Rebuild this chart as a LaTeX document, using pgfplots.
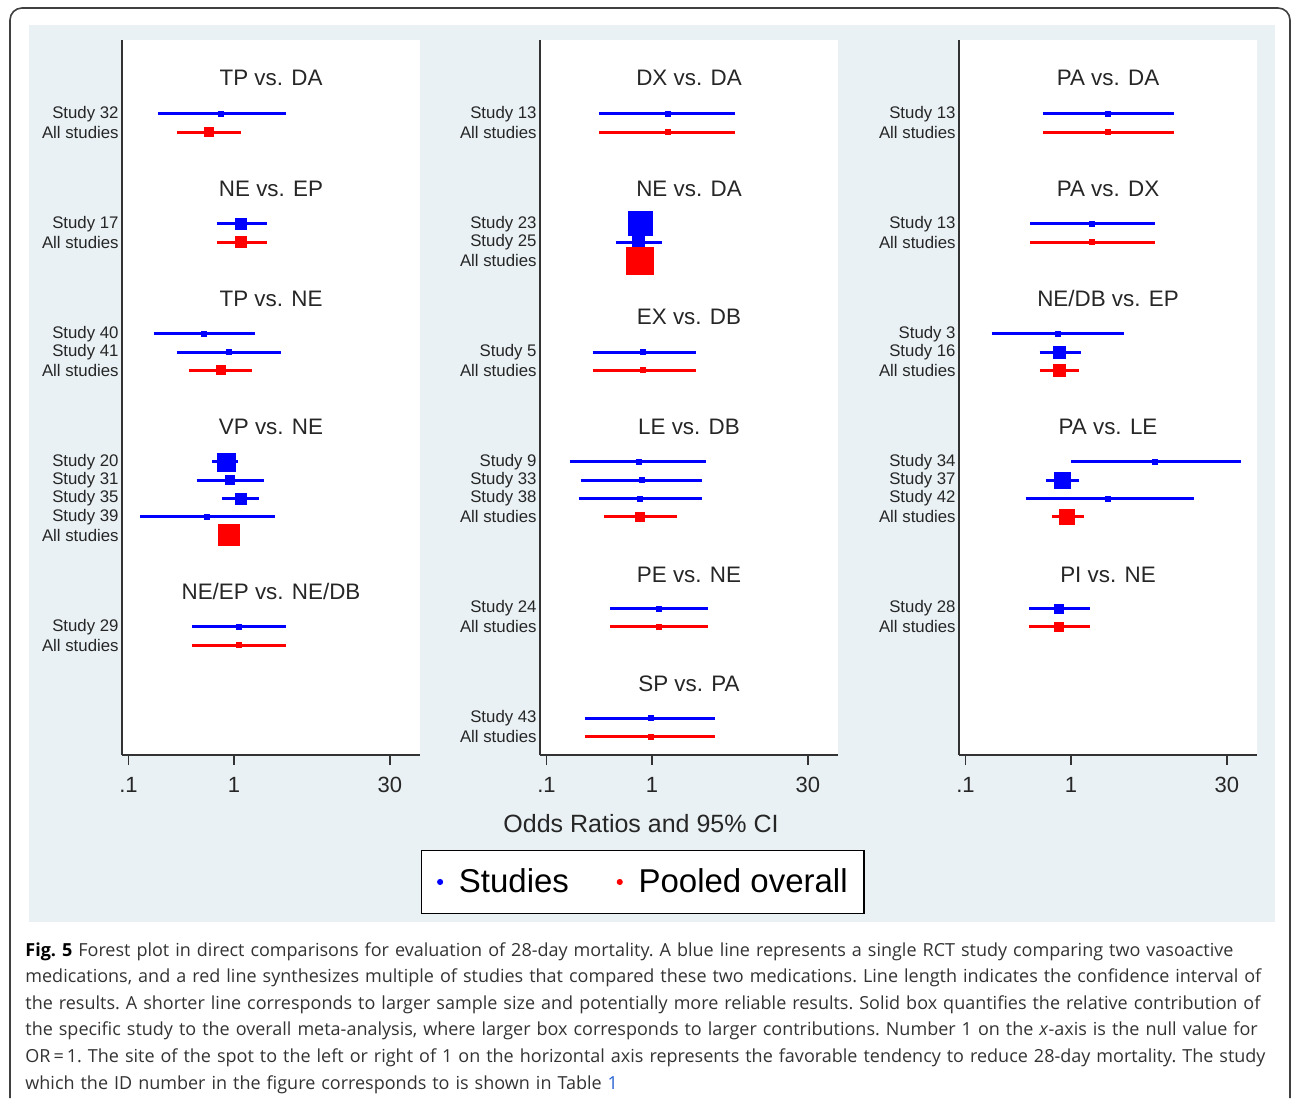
\documentclass[border=0pt]{standalone}
\usepackage{pgfplots}
\pgfplotsset{compat=1.18}
\usepackage{fontspec}
\setmainfont{Liberation Sans}
\newfontfamily\capfont{Open Sans}
\definecolor{bgc}{RGB}{233,241,244}
\definecolor{linkc}{RGB}{40,100,210}

% color, low, high, OR, row, box half-size
\newcommand{\ci}[6]{%
  \addplot[#1, line width=1.5pt, forget plot] coordinates {(#2,-#5) (#3,-#5)};
  \addplot[#1, only marks, mark=square*, mark size=#6, mark options={draw=none, fill=#1}, forget plot] coordinates {(#4,-#5)};
}
\newcommand{\ttl}[2]{\node[font=\fontsize{11.2}{13}\selectfont, text=black!85] at (axis cs:2.242,#1) {#2};}

\pgfplotsset{
  every axis/.append style={
  scale only axis, width=149pt, height=357.5pt,
  xmin=0.0868, xmax=57.9, ymin=-35, ymax=4.04,
  axis x line*=bottom, axis y line*=left,
  axis line style={draw=black!80, line width=0.9pt},
  xtick={0.1,1,30}, xticklabels={.1,1,30},
  xtick align=outside, major tick length=5pt,
  xtick style={draw=black!80, line width=0.8pt},
  ytick style={draw=none},
  xticklabel style={font=\fontsize{11}{13}\selectfont, text=black!85, yshift=-2.5pt},
  yticklabel style={font=\fontsize{8.4}{10}\selectfont, text=black!85, inner sep=1.5pt},
  clip=false},
}

\begin{document}
\begin{tikzpicture}
\begin{scope}[x=0.5pt, y=-0.5pt]
\fill[white] (0,0) rectangle (1292,1101);
\path[use as bounding box] (0,0) rectangle (1292,1101);
\draw[black!75, line width=0.8pt, rounded corners=6pt] (10,1098) -- (10,8) -- (1290,8) -- (1290,1098);
\fill[bgc] (29,25) rectangle (1275,922);
\fill[white] (122,40) rectangle (420,755);
\fill[white] (540,40) rectangle (838,755);
\fill[white] (959,40) rectangle (1257,755);
\end{scope}

% ---------------- Panel 1
\begin{semilogxaxis}[at={(61pt,-377.5pt)}, anchor=south west,
  ytick={-29,-28,-23,-22,-21,-20,-19,-14,-13,-12,-7,-6,-1,0},
  yticklabels={All studies,Study 29,All studies,Study 39,Study 35,Study 31,Study 20,All studies,Study 41,Study 40,All studies,Study 17,All studies,Study 32}]
\ttl{1.97}{TP vs. DA}
\ci{blue}{0.192}{3.09}{0.753}{0}{1.25}
\ci{red}{0.288}{1.16}{0.576}{1}{2.25}
\ttl{-4.08}{NE vs. EP}
\ci{blue}{0.69}{2.05}{1.17}{6}{2.75}
\ci{red}{0.69}{2.05}{1.17}{7}{2.75}
\ttl{-10.1}{TP vs. NE}
\ci{blue}{0.173}{1.58}{0.523}{12}{1.25}
\ci{blue}{0.288}{2.79}{0.89}{13}{1.25}
\ci{red}{0.374}{1.47}{0.748}{14}{2.25}
\ttl{-17.1}{VP vs. NE}
\ci{blue}{0.62}{1.08}{0.84}{19}{4.5}
\ci{blue}{0.443}{1.94}{0.916}{20}{2.25}
\ci{blue}{0.764}{1.74}{1.165}{21}{2.75}
\ci{blue}{0.128}{2.45}{0.555}{22}{1.25}
\ci{red}{0.76}{1.05}{0.893}{23}{5.25}
\ttl{-26.05}{NE/EP vs. NE/DB}
\ci{blue}{0.403}{3.09}{1.12}{28}{1.25}
\ci{red}{0.403}{3.09}{1.12}{29}{1.25}
\end{semilogxaxis}

% ---------------- Panel 2
\begin{semilogxaxis}[at={(270pt,-377.5pt)}, anchor=south west,
  ytick={-34,-33,-28,-27,-22,-21,-20,-19,-14,-13,-8,-7,-6,-1,0},
  yticklabels={All studies,Study 43,All studies,Study 24,All studies,Study 38,Study 33,Study 9,All studies,Study 5,All studies,Study 25,Study 23,All studies,Study 13},
  legend style={at={(axis description cs:0.344,-0.1776)}, anchor=center, draw=black, line width=0.8pt, fill=white,
    font=\fontsize{16.5}{19}\selectfont, inner xsep=6pt, inner ysep=7pt,
    /tikz/every even column/.append style={column sep=20pt}},
  legend columns=2,
  legend image code/.code={\path (-3pt,0pt) (7pt,0pt); \draw[#1] plot coordinates {(0pt,0pt)};}]
\addlegendimage{only marks, mark=*, mark size=1.1pt, blue}
\addlegendentry{Studies}
\addlegendimage{only marks, mark=*, mark size=1.1pt, red}
\addlegendentry{Pooled overall}
\ttl{1.97}{DX vs. DA}
\ci{blue}{0.313}{6.15}{1.42}{0}{1.25}
\ci{red}{0.313}{6.15}{1.42}{1}{1.25}
\ttl{-4.1}{NE vs. DA}
\ci{blue}{0.63}{0.95}{0.775}{6}{6}
\ci{blue}{0.453}{1.24}{0.742}{7}{3}
\ci{red}{0.62}{0.97}{0.775}{8}{6.75}
\ttl{-11.1}{EX vs. DB}
\ci{blue}{0.274}{2.59}{0.828}{13}{1.25}
\ci{red}{0.274}{2.59}{0.828}{14}{1.25}
\ttl{-17.1}{LE vs. DB}
\ci{blue}{0.166}{3.25}{0.748}{19}{1.25}
\ci{blue}{0.211}{2.95}{0.798}{20}{1.25}
\ci{blue}{0.202}{2.95}{0.764}{21}{1.25}
\ci{red}{0.349}{1.73}{0.77}{22}{2.25}
\ttl{-25.18}{PE vs. NE}
\ci{blue}{0.398}{3.37}{1.16}{27}{1.25}
\ci{red}{0.398}{3.37}{1.16}{28}{1.25}
\ttl{-31.1}{SP vs. PA}
\ci{blue}{0.232}{3.98}{0.97}{33}{1.25}
\ci{red}{0.232}{3.98}{0.97}{34}{1.25}
\end{semilogxaxis}

% ---------------- Panel 3
\begin{semilogxaxis}[at={(479.5pt,-377.5pt)}, anchor=south west,
  ytick={-28,-27,-22,-21,-20,-19,-14,-13,-12,-7,-6,-1,0},
  yticklabels={All studies,Study 28,All studies,Study 42,Study 37,Study 34,All studies,Study 16,Study 3,All studies,Study 13,All studies,Study 13}]
\ttl{1.97}{PA vs. DA}
\ci{blue}{0.538}{9.4}{2.26}{0}{1.25}
\ci{red}{0.538}{9.4}{2.26}{1}{1.25}
\ttl{-4.1}{PA vs. DX}
\ci{blue}{0.41}{6.26}{1.57}{6}{1.25}
\ci{red}{0.41}{6.26}{1.57}{7}{1.25}
\ttl{-10.1}{NE/DB vs. EP}
\ci{blue}{0.177}{3.17}{0.752}{12}{1.25}
\ci{blue}{0.504}{1.24}{0.774}{13}{3}
\ci{red}{0.504}{1.19}{0.774}{14}{3}
\ttl{-17.1}{PA vs. LE}
\ci{blue}{1.01}{41.2}{6.26}{19}{1.25}
\ci{blue}{0.574}{1.19}{0.82}{20}{4}
\ci{blue}{0.371}{14.5}{2.26}{21}{1.25}
\ci{red}{0.655}{1.32}{0.916}{22}{3.75}
\ttl{-25.18}{PI vs. NE}
\ci{blue}{0.398}{1.52}{0.774}{27}{2.25}
\ci{red}{0.398}{1.52}{0.774}{28}{2.25}
\end{semilogxaxis}

\begin{scope}[x=0.5pt, y=-0.5pt]
\node[font=\fontsize{12.5}{15}\selectfont, text=black!85] at (641,824) {Odds Ratios and 95\% CI};
\node[anchor=north west, inner sep=0pt, text width=626pt, align=left,
  font=\capfont\fontsize{9}{13.3}\selectfont\frenchspacing, text=black!80] at (25,942) {%
\textbf{\color{black}Fig. 5} Forest plot in direct comparisons for evaluation of 28-day mortality. A blue line represents a single RCT study comparing two vasoactive\\
medications, and a red line synthesizes multiple of studies that compared these two medications. Line length indicates the confidence interval of\\
the results. A shorter line corresponds to larger sample size and potentially more reliable results. Solid box quantifies the relative contribution of\\
the specific study to the overall meta-analysis, where larger box corresponds to larger contributions. Number 1 on the \textit{x}-axis is the null value for\\
OR\,=\,1. The site of the spot to the left or right of 1 on the horizontal axis represents the favorable tendency to reduce 28-day mortality. The study\\
which the ID number in the figure corresponds to is shown in Table {\color{linkc}1}};
\end{scope}
\end{tikzpicture}
\end{document}
